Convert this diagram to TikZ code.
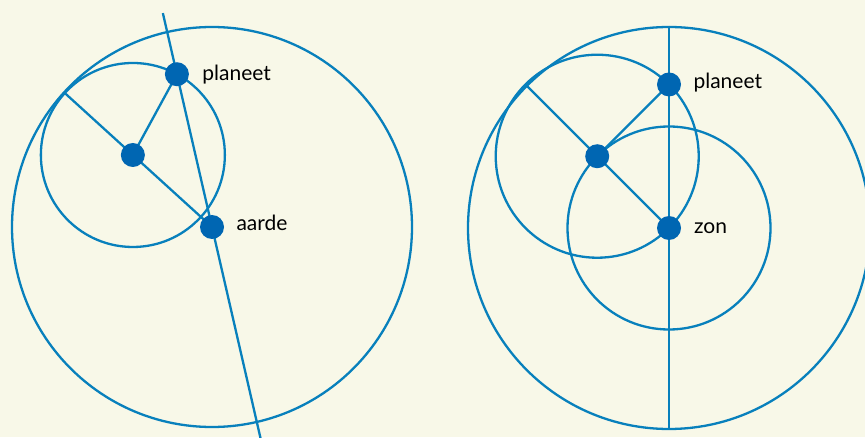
\documentclass[tikz,border=0pt]{standalone}
\usepackage{fontspec}
\setmainfont{Lato}
\usepackage{tikz}
\usetikzlibrary{calc}
\definecolor{baan}{RGB}{8,128,188}
\definecolor{stip}{RGB}{0,102,178}
\definecolor{papier}{RGB}{248,248,232}

\begin{document}
\begin{tikzpicture}[x=1pt,y=1pt,
  orbit/.style={baan,line width=2.3pt},
  body/.style={circle,fill=stip,inner sep=0pt,minimum size=24pt},
  naam/.style={anchor=base west,font=\fontsize{21}{25}\selectfont,text=black}]
  % Background
  \fill[papier] (0,0) rectangle (865,437);
  \clip (0,0) rectangle (865,437);

  % Left: earth in the centre
  \coordinate (E) at (212,210);
  \coordinate (C1) at ($(E)+(137.7:107)$);
  \coordinate (P1) at ($(C1)+(61.4:92)$);
  \coordinate (T1) at ($(C1)+(137.7:92)$);
  \coordinate (top1) at ($(E)!1.4!(P1)$);
  \coordinate (bot1) at ($(E)!-1.45!(P1)$);

  \draw[orbit] (E) circle (200);
  \draw[orbit] (C1) circle (92);
  \draw[orbit] (top1) -- (bot1);
  \draw[orbit] (E) -- (T1);
  \draw[orbit] (C1) -- (P1);

  \node[body] (epi1) at (C1) {};
  \node[body] (planeet1) at (P1) {};
  \node[body] (aarde) at (E) {};
  \node[naam] at ($(planeet1)+(22,-6)$) {planeet};
  \node[naam] at ($(aarde)+(21,-3.5)$) {aarde};

  % Right: sun in the centre
  \coordinate (Z) at (669,209);
  \coordinate (C2) at ($(Z)+(135:101.5)$);
  \coordinate (P2) at ($(C2)+(45:101.5)$);
  \coordinate (T2) at ($(C2)+(135:101.5)$);
  \coordinate (top2) at ($(Z)+(0,202)$);
  \coordinate (bot2) at ($(Z)+(0,-200)$);

  \draw[orbit] (Z) circle (201);
  \draw[orbit] (C2) circle (101.5);
  \draw[orbit] (Z) circle (101.5);
  \draw[orbit] (top2) -- (bot2);
  \draw[orbit] (Z) -- (T2);
  \draw[orbit] (C2) -- (P2);

  \node[body] (epi2) at (C2) {};
  \node[body] (planeet2) at (P2) {};
  \node[body] (zon) at (Z) {};
  \node[naam] at ($(planeet2)+(21,-4.5)$) {planeet};
  \node[naam] at ($(zon)+(21.5,-6)$) {zon};
\end{tikzpicture}
\end{document}
